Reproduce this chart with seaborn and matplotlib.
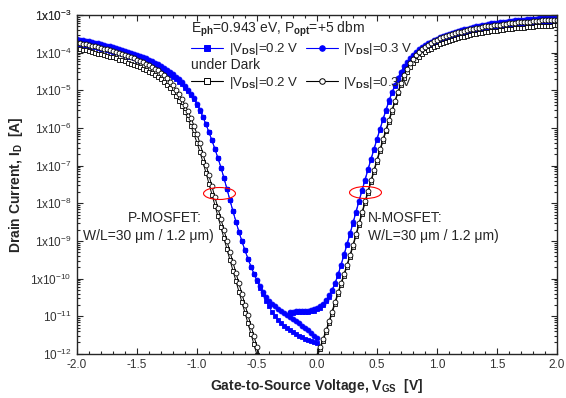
import numpy as np
import pandas as pd
import matplotlib
matplotlib.use("Agg")
import matplotlib.pyplot as plt
import seaborn as sns
from matplotlib.lines import Line2D
from matplotlib.path import Path
from matplotlib.transforms import Affine2D
from matplotlib.ticker import MultipleLocator, LogLocator, NullFormatter

# gate sweeps (V)
vgs_p = np.linspace(-2.0, 0.0, 81)
vgs_n = np.linspace(0.0, 2.0, 81)
vgs_n_lit = np.linspace(-0.225, 2.0, 90)

# log10(Id)
# illuminated, P-MOSFET side
lit_p_02 = [
    -3.76, -3.77, -3.79, -3.80, -3.82, -3.84, -3.86, -3.87, -3.89, -3.91,
    -3.93, -3.95, -3.97, -3.99, -4.01, -4.04, -4.07, -4.10, -4.12, -4.15,
    -4.18, -4.21, -4.23, -4.27, -4.31, -4.34, -4.37, -4.41, -4.45, -4.49,
    -4.54, -4.59, -4.64, -4.70, -4.77, -4.84, -4.93, -5.02, -5.12, -5.24,
    -5.38, -5.54, -5.71, -5.90, -6.11, -6.33, -6.56, -6.80, -7.05, -7.33,
    -7.62, -7.92, -8.21, -8.49, -8.76, -9.01, -9.25, -9.47, -9.68, -9.87,
    -10.06, -10.24, -10.42, -10.59, -10.74, -10.88, -11.00, -11.10, -11.18, -11.25,
    -11.31, -11.37, -11.42, -11.47, -11.52, -11.56, -11.60, -11.63, -11.66, -11.68,
    -11.70,
]
lit_p_03 = [
    -3.64, -3.65, -3.67, -3.68, -3.70, -3.72, -3.74, -3.75, -3.77, -3.79,
    -3.81, -3.83, -3.85, -3.87, -3.89, -3.92, -3.95, -3.98, -4.00, -4.03,
    -4.06, -4.09, -4.11, -4.15, -4.19, -4.22, -4.26, -4.30, -4.35, -4.40,
    -4.45, -4.51, -4.57, -4.64, -4.71, -4.79, -4.88, -4.98, -5.09, -5.21,
    -5.36, -5.52, -5.70, -5.90, -6.11, -6.33, -6.56, -6.80, -7.05, -7.33,
    -7.62, -7.92, -8.21, -8.49, -8.76, -9.01, -9.25, -9.47, -9.68, -9.87,
    -10.05, -10.21, -10.36, -10.49, -10.60, -10.68, -10.74, -10.80, -10.85, -10.91,
    -10.96, -11.01, -11.07, -11.13, -11.19, -11.25, -11.31, -11.38, -11.45, -11.52,
    -11.58,
]
# dark, P-MOSFET side
dark_p_02 = [
    -3.90, -3.91, -3.93, -3.94, -3.96, -3.98, -4.00, -4.02, -4.04, -4.06,
    -4.08, -4.10, -4.12, -4.15, -4.18, -4.20, -4.23, -4.26, -4.29, -4.32,
    -4.35, -4.38, -4.42, -4.46, -4.50, -4.54, -4.59, -4.64, -4.70, -4.77,
    -4.85, -4.94, -5.04, -5.15, -5.28, -5.42, -5.58, -5.76, -5.95, -6.16,
    -6.39, -6.64, -6.91, -7.19, -7.48, -7.77, -8.06, -8.35, -8.64, -8.93,
    -9.22, -9.51, -9.79, -10.07, -10.35, -10.63, -10.91, -11.19, -11.47, -11.75,
    -12.03,
]
dark_p_03 = [
    -3.73, -3.74, -3.76, -3.77, -3.79, -3.81, -3.83, -3.85, -3.87, -3.89,
    -3.91, -3.93, -3.95, -3.98, -4.01, -4.03, -4.06, -4.09, -4.12, -4.15,
    -4.18, -4.21, -4.25, -4.29, -4.33, -4.37, -4.42, -4.47, -4.53, -4.60,
    -4.68, -4.77, -4.87, -4.98, -5.10, -5.24, -5.39, -5.55, -5.73, -5.94,
    -6.16, -6.41, -6.68, -6.97, -7.26, -7.55, -7.84, -8.13, -8.42, -8.71,
    -9.00, -9.29, -9.57, -9.85, -10.13, -10.41, -10.69, -10.97, -11.25, -11.53,
    -11.81, -12.09,
]
# illuminated, N-MOSFET side (starts at -0.225 V)
lit_n_02 = [
    -10.91, -10.91, -10.90, -10.90, -10.90, -10.89, -10.88, -10.87, -10.85,
    -10.82, -10.77, -10.70, -10.60, -10.48, -10.33, -10.15, -9.92, -9.66, -9.39,
    -9.11, -8.83, -8.54, -8.25, -7.96, -7.68, -7.40, -7.12, -6.85, -6.58,
    -6.31, -6.05, -5.79, -5.54, -5.30, -5.08, -4.89, -4.72, -4.57, -4.45,
    -4.34, -4.25, -4.17, -4.10, -4.03, -3.97, -3.92, -3.87, -3.83, -3.79,
    -3.75, -3.72, -3.68, -3.65, -3.62, -3.60, -3.57, -3.55, -3.53, -3.51,
    -3.49, -3.47, -3.45, -3.44, -3.42, -3.40, -3.39, -3.37, -3.36, -3.35,
    -3.34, -3.32, -3.31, -3.30, -3.29, -3.28, -3.27, -3.26, -3.25, -3.25,
    -3.24, -3.23, -3.22, -3.22, -3.21, -3.20, -3.20, -3.19, -3.19, -3.18,
    -3.18,
]
lit_n_03 = [
    -10.88, -10.88, -10.87, -10.87, -10.87, -10.86, -10.85, -10.84, -10.82,
    -10.79, -10.74, -10.67, -10.57, -10.45, -10.30, -10.12, -9.89, -9.63, -9.36,
    -9.08, -8.80, -8.51, -8.22, -7.93, -7.65, -7.37, -7.09, -6.82, -6.55,
    -6.28, -6.02, -5.76, -5.51, -5.26, -5.05, -4.85, -4.66, -4.50, -4.36,
    -4.25, -4.15, -4.06, -3.98, -3.91, -3.85, -3.80, -3.75, -3.71, -3.67,
    -3.63, -3.59, -3.56, -3.53, -3.50, -3.47, -3.45, -3.42, -3.40, -3.38,
    -3.36, -3.34, -3.32, -3.30, -3.28, -3.27, -3.25, -3.24, -3.22, -3.21,
    -3.20, -3.19, -3.18, -3.17, -3.16, -3.15, -3.14, -3.13, -3.12, -3.12,
    -3.11, -3.10, -3.10, -3.09, -3.08, -3.08, -3.07, -3.07, -3.06, -3.06,
    -3.05,
]
# dark, N-MOSFET side
dark_n_02 = [
    -12.10, -11.88, -11.66, -11.43, -11.19, -10.93, -10.67, -10.42, -10.17, -9.93,
    -9.68, -9.42, -9.15, -8.87, -8.58, -8.29, -8.00, -7.72, -7.44, -7.16,
    -6.89, -6.62, -6.35, -6.09, -5.83, -5.57, -5.31, -5.07, -4.86, -4.67,
    -4.50, -4.37, -4.27, -4.18, -4.10, -4.04, -3.99, -3.94, -3.89, -3.85,
    -3.81, -3.77, -3.74, -3.71, -3.68, -3.65, -3.63, -3.61, -3.59, -3.57,
    -3.55, -3.53, -3.51, -3.50, -3.48, -3.47, -3.45, -3.44, -3.43, -3.42,
    -3.41, -3.40, -3.39, -3.38, -3.37, -3.36, -3.35, -3.34, -3.34, -3.33,
    -3.32, -3.32, -3.31, -3.30, -3.30, -3.29, -3.29, -3.28, -3.28, -3.27,
    -3.27,
]
dark_n_03 = [
    -12.05, -11.83, -11.61, -11.38, -11.14, -10.88, -10.62, -10.37, -10.12, -9.88,
    -9.63, -9.37, -9.10, -8.82, -8.53, -8.24, -7.95, -7.67, -7.39, -7.11,
    -6.84, -6.57, -6.30, -6.04, -5.78, -5.52, -5.27, -5.03, -4.81, -4.60,
    -4.42, -4.28, -4.16, -4.06, -3.97, -3.90, -3.84, -3.79, -3.74, -3.70,
    -3.66, -3.62, -3.59, -3.56, -3.53, -3.50, -3.48, -3.46, -3.44, -3.42,
    -3.40, -3.38, -3.36, -3.35, -3.33, -3.32, -3.30, -3.29, -3.28, -3.27,
    -3.26, -3.25, -3.24, -3.23, -3.22, -3.21, -3.20, -3.19, -3.19, -3.18,
    -3.17, -3.17, -3.16, -3.15, -3.15, -3.14, -3.14, -3.13, -3.13, -3.12,
    -3.12,
]

ytick_exp = list(range(-12, -2))
ytick_labels = [r"10$^{%d}$" % e if e < -10 else r"1x10$^{%d}$" % e for e in ytick_exp]

# red ellipses marking the crossing region (V, log10 I)
ring_v = [-0.817, 0.40]
ring_log = [-7.72, -7.69]


def curve(vp, lp, vn, ln, name):
    p = pd.DataFrame({"Vgs": vp[:len(lp)], "logId": lp, "branch": "P"})
    n = pd.DataFrame({"Vgs": vn[:len(ln)], "logId": ln, "branch": "N"})
    d = pd.concat([p, n], ignore_index=True)
    d["Id"] = 10.0 ** d["logId"]
    d["cond"] = name
    return d


df_all = pd.concat([
    curve(vgs_p, lit_p_02, vgs_n_lit, lit_n_02, "lit02"),
    curve(vgs_p, lit_p_03, vgs_n_lit, lit_n_03, "lit03"),
    curve(vgs_p, dark_p_02, vgs_n, dark_n_02, "dark02"),
    curve(vgs_p, dark_p_03, vgs_n, dark_n_03, "dark03"),
], ignore_index=True)

sns.set_style("ticks")
plt.rcParams["font.family"] = ["Liberation Sans", "DejaVu Sans"]
plt.rcParams["mathtext.fontset"] = "custom"
plt.rcParams["mathtext.rm"] = "Liberation Sans"
plt.rcParams["mathtext.it"] = "Liberation Sans:italic"
plt.rcParams["mathtext.bf"] = "Liberation Sans:bold"
plt.rcParams["axes.unicode_minus"] = False

fig, ax = plt.subplots(figsize=(5.66, 3.98), dpi=100)
fig.subplots_adjust(left=0.136, right=0.984, top=0.962, bottom=0.111)

styles = {
    "lit02": dict(color="#0000ff", marker="s", mfc="#0000ff", mec="#0000ff"),
    "lit03": dict(color="#0000ff", marker="o", mfc="#0000ff", mec="#0000ff"),
    "dark02": dict(color="black", marker="s", mfc="white", mec="black"),
    "dark03": dict(color="black", marker="o", mfc="white", mec="black"),
}

for name in ["lit02", "lit03", "dark02", "dark03"]:
    st = styles[name]
    sns.lineplot(
        data=df_all[df_all["cond"] == name],
        x="Vgs",
        y="Id",
        units="branch",
        estimator=None,
        sort=False,
        legend=False,
        ax=ax,
        color=st["color"],
        lw=0.7,
        marker=st["marker"],
        ms=3.5,
        mfc=st["mfc"],
        mec=st["mec"],
        mew=0.6,
    )

# ellipses
ell = Affine2D().scale(1.0, 0.375).transform_path(Path.unit_circle())
ax.plot(ring_v, [10.0 ** v for v in ring_log], ls="none", marker=ell, ms=23,
        mfc="none", mec="red", mew=0.8)

ax.set_yscale("log")
ax.set_xlim(-2.0, 2.0)
ax.set_ylim(1e-12, 1e-3)
ax.set_yticks([10.0 ** e for e in ytick_exp] + [1e-3])
ax.set_yticklabels(ytick_labels + [r"1x10$^{-3}$"])
ax.yaxis.set_minor_locator(LogLocator(base=10, subs=np.arange(2, 10), numticks=30))
ax.yaxis.set_minor_formatter(NullFormatter())
ax.xaxis.set_major_locator(MultipleLocator(0.5))
ax.xaxis.set_minor_locator(MultipleLocator(0.1))
ax.xaxis.set_major_formatter(matplotlib.ticker.FormatStrFormatter("%.1f"))

ax.tick_params(which="both", direction="in", top=True, right=True, width=0.8)
ax.tick_params(which="major", length=4.5, labelsize=8.5, labelcolor="#333333", pad=4)
ax.tick_params(which="minor", length=2.2)
for s in ax.spines.values():
    s.set_linewidth(1.0)

ax.set_xlabel(r"Gate-to-Source Voltage, V$_{\mathbf{GS}}$  [V]", fontsize=10,
              fontweight="bold", labelpad=4)
ax.set_ylabel(r"Drain Current, I$_{\mathbf{D}}$  [A]", fontsize=10,
              fontweight="bold", labelpad=4)

# device labels
ax.text(-1.575, 10 ** -8.40, "P-MOSFET:", fontsize=10, va="center", ha="left")
ax.text(-1.95, 10 ** -8.87, "W/L=30 \u03bcm / 1.2 \u03bcm)", fontsize=10, va="center", ha="left")
ax.text(0.425, 10 ** -8.40, "N-MOSFET:", fontsize=10, va="center", ha="left")
ax.text(0.425, 10 ** -8.87, "W/L=30 \u03bcm / 1.2 \u03bcm)", fontsize=10, va="center", ha="left")


# legend, two blocks
def handle(name):
    st = styles[name]
    return Line2D([], [], color=st["color"], lw=0.8, marker=st["marker"], ms=4,
                  mfc=st["mfc"], mec=st["mec"], mew=0.7)


lab02 = r"|V$_{\mathbf{DS}}$|=0.2 V"
lab03 = r"|V$_{\mathbf{DS}}$|=0.3 V"
leg_kw = dict(ncol=2, loc="upper left", frameon=False, fontsize=9.5, title_fontsize=10,
              alignment="left", handlelength=2.45, handletextpad=0.4, columnspacing=0.55,
              borderpad=0, borderaxespad=0, labelspacing=0.2)
leg1 = ax.legend([handle("lit02"), handle("lit03")], [lab02, lab03],
                 title=r"E$_{\mathbf{ph}}$=0.943 eV, P$_{\mathbf{opt}}$=+5 dbm",
                 bbox_to_anchor=(0.2375, 0.987), **leg_kw)
ax.add_artist(leg1)
leg2 = ax.legend([handle("dark02"), handle("dark03")], [lab02, lab03],
                 title="under Dark", bbox_to_anchor=(0.2375, 0.872), **leg_kw)

fig.savefig("out.png", dpi=100)
